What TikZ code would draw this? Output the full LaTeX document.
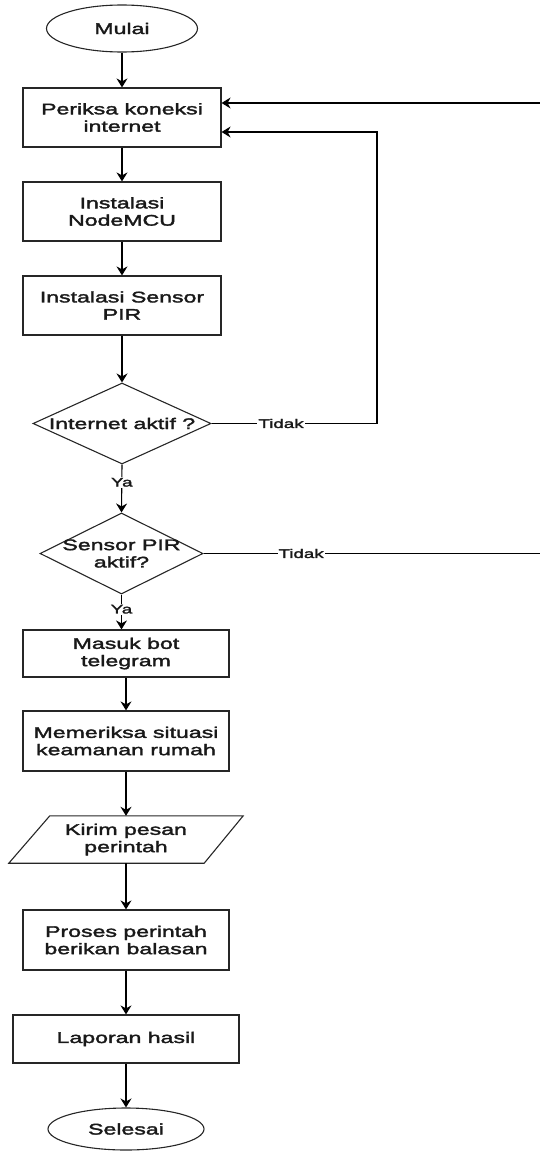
\documentclass[tikz,border=0pt]{standalone}
\usepackage{fontspec}
\setmainfont[FakeStretch=1.5,FakeBold=2.2]{Liberation Sans}
\usetikzlibrary{shapes.geometric,arrows.meta}
\begin{document}
\begin{tikzpicture}[x=1pt,y=-1pt,
  every node/.style={font=\fontsize{15.4}{17.3}\selectfont, text=black!90},
  box/.style={draw=black!85, line width=1.2pt, rectangle, inner sep=0pt, align=center},
  term/.style={draw=black!85, line width=1.1pt, ellipse, inner sep=0pt},
  decision/.style={draw=black!85, line width=1.1pt, diamond, inner sep=0pt},
  flow/.style={line width=1.1pt, draw=black, -{Stealth[length=9pt,width=11pt,inset=3pt]}},
  link/.style={line width=1.1pt, draw=black},
  tag/.style={font=\fontsize{12.5}{13}\selectfont, fill=white, inner sep=1pt}]
\useasboundingbox (0,0) rectangle (540,1151);

% process steps
\node[term, minimum width=151pt, minimum height=47pt] (mulai) at (122,28.5) {Mulai};
\node[box, minimum width=198pt, minimum height=59pt] (periksa) at (122,117.5) {Periksa koneksi\\internet};
\node[box, minimum width=198pt, minimum height=59pt] (nodemcu) at (122,211.5) {Instalasi\\NodeMCU};
\node[box, minimum width=198pt, minimum height=59pt] (pir) at (122,305.5) {Instalasi Sensor\\PIR};
\node[decision, minimum width=178pt, minimum height=81pt,
      label={[name=d1text, align=center]center:Internet aktif ?}] (d1) at (122,423.5) {};
\node[decision, minimum width=163pt, minimum height=81pt,
      label={[name=d2text, align=center, font=\fontsize{15.4}{17.3}\selectfont]center:Sensor PIR\\aktif?}] (d2) at (121.5,553.5) {};
\node[box, minimum width=206pt, minimum height=47pt] (masuk) at (126,653.5) {Masuk bot\\telegram};
\node[box, minimum width=206pt, minimum height=60pt] (memeriksa) at (126,741) {Memeriksa situasi\\keamanan rumah};
\node[inner sep=0pt, minimum width=234pt, minimum height=47pt, align=center] (kirim) at (126,839.5) {Kirim pesan\\perintah};
\draw[black!85, line width=1.1pt] ([xshift=41pt]kirim.north west) -- (kirim.north east)
  -- ([xshift=-39pt]kirim.south east) -- (kirim.south west) -- cycle;
\node[box, minimum width=206pt, minimum height=60pt] (proses) at (126,940) {Proses perintah\\berikan balasan};
\node[box, minimum width=226pt, minimum height=48pt] (laporan) at (126,1039) {Laporan hasil};
\node[term, minimum width=156pt, minimum height=42pt] (selesai) at (126,1129) {Selesai};

% loop-back points
\coordinate (loopin) at (540,103);
\coordinate (r1) at (377,132);
\coordinate (loopout) at (540,553.5);

% main flow
\draw[flow] (mulai) -- (periksa);
\draw[flow] (periksa) -- (nodemcu);
\draw[flow] (nodemcu) -- (pir);
\draw[flow] (pir) -- (d1);
\draw[flow] (d1.south) -- node[tag, pos=0.37] (ya1) {Ya} (d2.north);
\draw[flow] (d2.south) -- node[tag, pos=0.42] (ya2) {Ya} (d2.south |- masuk.north);
\draw[flow] (masuk) -- (memeriksa);
\draw[flow] (memeriksa) -- (kirim);
\draw[flow] (kirim) -- (proses);
\draw[flow] (proses) -- (laporan);
\draw[flow] (laporan) -- (selesai);

% "Tidak" branches
\draw[flow] (d1.east) -- node[tag, pos=0.42] (tidak1) {Tidak} (d1.east -| r1) -- (r1) -- (periksa.east |- r1);
\draw[link] (d2.east) -- node[tag, pos=0.29] (tidak2) {Tidak} (loopout);
\draw[flow] (loopin) -- (periksa.east |- loopin);
\end{tikzpicture}
\end{document}
